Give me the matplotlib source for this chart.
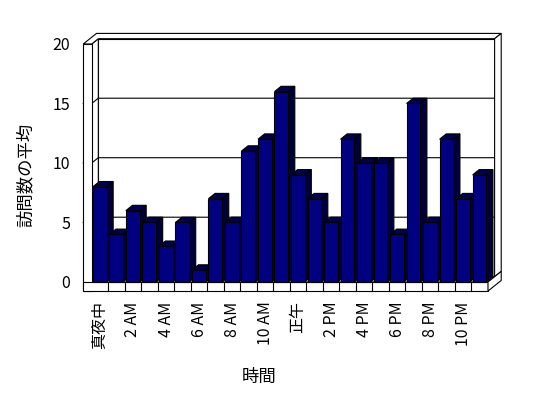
import numpy as np
import matplotlib
matplotlib.use("Agg")
import matplotlib.pyplot as plt
from matplotlib.patches import Polygon

plt.rcParams["font.family"] = ["Noto Sans CJK JP", "DejaVu Sans"]

# Données : moyenne des visites par heure
hours = list(range(24))
visits = [8, 4, 6, 5, 3, 5, 1, 7, 5, 11, 12, 16,
          9, 7, 5, 12, 10, 10, 4, 15, 5, 12, 7, 9]
tick_labels = ["真夜中", "2 AM", "4 AM", "6 AM", "8 AM", "10 AM",
               "正午", "2 PM", "4 PM", "6 PM", "8 PM", "10 PM"]
y_ticks = [0, 5, 10, 15, 20]

# Pseudo-3D (style Excel) : vecteur de profondeur en unités de données
DX, DY = 0.40, 0.445
WALL = 0.51      # épaisseur du mur gauche
FLOOR = 0.76     # épaisseur du sol
BAR_OFF, BAR_W = 0.07, 0.83
YMAX = 20
LW = 0.8

FRONT = "#000080"
SIDE = "#000038"
TOP = "#00004c"

fig = plt.figure(figsize=(5.48, 3.98), dpi=100)
ax = fig.add_axes([91.7 / 548, 1 - 282 / 398, 396.3 / 548, 238 / 398])
ax.set_xlim(0, len(hours))
ax.set_ylim(0, YMAX)
n = len(hours)


def poly(pts, fc="white", z=1):
    ax.add_patch(Polygon(pts, closed=True, facecolor=fc, edgecolor="black",
                         linewidth=LW, zorder=z, clip_on=False))


# ── Murs ─────────────────────────────────────────────────────────
poly([(DX, DY), (n + DX, DY), (n + DX, YMAX + DY), (DX, YMAX + DY)], z=1)
poly([(0, 0), (DX, DY), (DX, YMAX + DY), (0, YMAX)], z=1)
for v in y_ticks[1:-1]:
    ax.plot([-WALL, 0, DX, n + DX], [v, v, v + DY, v + DY],
            color="black", lw=LW, zorder=2, clip_on=False)

# dessus des murs gauche + fond
poly([(-WALL, YMAX), (0, YMAX), (DX, YMAX + DY), (n + DX, YMAX + DY),
      (n + 2 * DX, YMAX + 2 * DY), (-WALL + 2 * DX, YMAX + 2 * DY)], z=3)
# face droite du mur du fond
poly([(n + DX, DY), (n + DX, YMAX + DY), (n + 2 * DX, YMAX + 2 * DY),
      (n + 2 * DX, 2 * DY)], z=3)
# face avant du mur gauche
poly([(-WALL, -FLOOR), (0, -FLOOR), (0, YMAX), (-WALL, YMAX)], z=3)

# ── Sol ──────────────────────────────────────────────────────────
poly([(0, 0), (n, 0), (n + DX, DY), (DX, DY)], z=2)
poly([(-WALL, -FLOOR), (n, -FLOOR), (n, 0), (-WALL, 0)], z=3)
poly([(n, -FLOOR), (n + 2 * DX, -FLOOR + 2 * DY), (n + 2 * DX, 2 * DY),
      (n, 0)], z=3)
for i in hours[1:]:
    ax.plot([i, i], [-FLOOR, 0], color="black", lw=LW, zorder=4,
            clip_on=False)

# ── Barres (gauche → droite pour l'occlusion) ───────────────────
for i, v in zip(hours, visits):
    x0 = i + BAR_OFF
    x1 = x0 + BAR_W
    z = 5 + i * 0.01
    poly([(x1, 0), (x1 + DX, DY), (x1 + DX, v + DY), (x1, v)], fc=SIDE, z=z)
    poly([(x0, v), (x1, v), (x1 + DX, v + DY), (x0 + DX, v + DY)], fc=TOP, z=z)
    poly([(x0, 0), (x1, 0), (x1, v), (x0, v)], fc=FRONT, z=z + 0.001)

# ── Axes et libellés ─────────────────────────────────────────────
for s in ax.spines.values():
    s.set_visible(False)
ax.set_yticks(y_ticks)
ax.set_yticklabels([str(t) for t in y_ticks], fontsize=11.5)
ax.set_xticks(np.array(hours[::2]) + 0.5)
ax.set_xticklabels(tick_labels, rotation=90, fontsize=11.5, va="top")
ax.tick_params(axis="y", length=0, pad=15.5)
ax.tick_params(axis="x", length=0, pad=14.0)

ax.set_xlabel("時間", fontsize=12.5)
ax.xaxis.set_label_coords(0.422, -0.36)
ax.set_ylabel("訪問数の平均", fontsize=12.5)
ax.yaxis.set_label_coords(-0.143, 0.45)

fig.savefig("out.png", dpi=100)
